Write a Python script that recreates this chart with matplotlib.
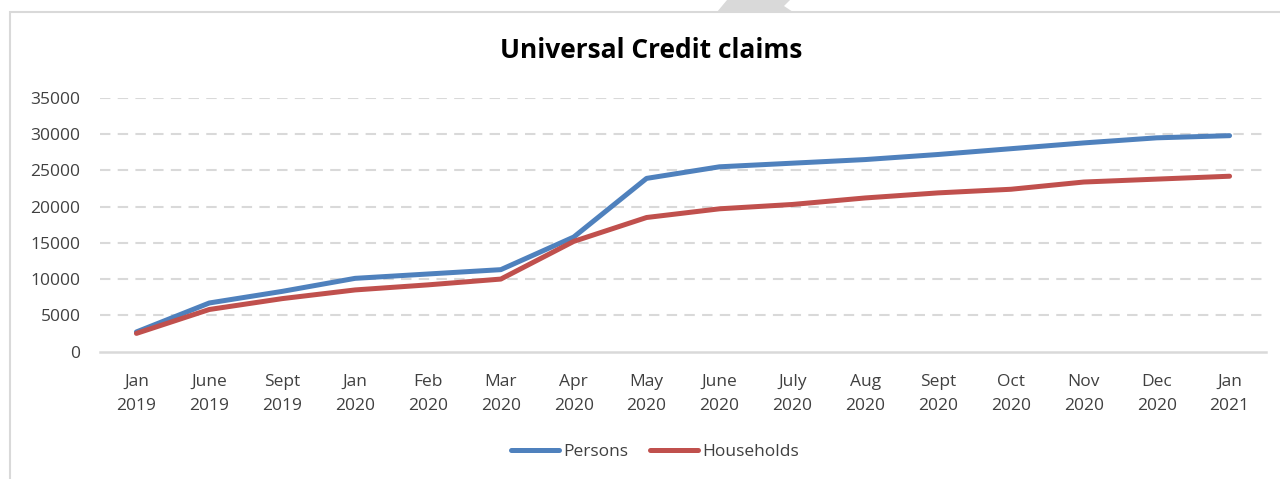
import numpy as np
import matplotlib
matplotlib.use("Agg")
import matplotlib.pyplot as plt
from matplotlib.patches import Polygon, Rectangle

plt.rcParams['font.family'] = ['Open Sans', 'DejaVu Sans']

months = ["Jan\n2019", "June\n2019", "Sept\n2019", "Jan\n2020", "Feb\n2020", "Mar\n2020",
          "Apr\n2020", "May\n2020", "June\n2020", "July\n2020", "Aug\n2020", "Sept\n2020",
          "Oct\n2020", "Nov\n2020", "Dec\n2020", "Jan\n2021"]
persons = [2700, 6700, 8300, 10100, 10700, 11300, 15800, 23900,
           25500, 26000, 26500, 27200, 28000, 28800, 29500, 29800]
households = [2500, 5800, 7300, 8500, 9200, 10000, 15200, 18500,
              19700, 20300, 21200, 21900, 22400, 23400, 23800, 24200]
yticks = [0, 5000, 10000, 15000, 20000, 25000, 30000, 35000]

W, H = 1280, 479
fig = plt.figure(figsize=(W / 100, H / 100), dpi=100)

# chart frame + little grey tab at the top
fig.patches.append(Rectangle((10 / W, -0.1), 1.2, 1 - 12.5 / H + 0.1, transform=fig.transFigure,
                             fill=False, edgecolor="#d9d9d9", lw=1.5))
tab = [(717, 12), (727, 0), (790, 0), (784, 6), (793, 12)]
fig.patches.append(Polygon([(x / W, 1 - y / H) for x, y in tab], closed=True,
                           transform=fig.transFigure, facecolor="#d9d9d9", edgecolor="none"))

ax = fig.add_axes([100 / W, 1 - 351.5 / H, 1166 / W, (351.5 - 98) / H])
x = np.arange(len(months))

for y in yticks[1:]:
    ax.axhline(y, color="#d9d9d9", lw=1.5, ls=(0, (5, 3.5)), zorder=1)

ax.plot(x, persons, color="#4f81bd", lw=3.6, solid_capstyle="round", label="Persons", zorder=3)
ax.plot(x, households, color="#c0504d", lw=3.6, solid_capstyle="round", label="Households", zorder=3)

ax.set_xlim(-0.5, len(months) - 0.5)
ax.set_ylim(0, 35000)
ax.set_yticks(yticks)
ax.set_yticklabels([str(v) for v in yticks])
ax.set_xticks(x)
ax.set_xticklabels(months, linespacing=1.72)
ax.tick_params(length=0, labelsize=12.5, colors="#595959", labelcolor="#404040")
ax.tick_params(axis="y", pad=14)
ax.tick_params(axis="x", pad=16)
for s in ["top", "right", "left"]:
    ax.spines[s].set_visible(False)
ax.spines["bottom"].set_color("#d9d9d9")
ax.spines["bottom"].set_linewidth(1.8)

fig.text(651 / W, 1 - 50 / H, "Universal Credit claims", ha="center", va="center",
         fontsize=19, fontweight="bold", color="black")

fig.legend(loc="center", bbox_to_anchor=(655 / W, 1 - 452 / H), ncol=2, frameon=False,
           fontsize=12.5, handlelength=2.8, handletextpad=0.25, columnspacing=1.2,
           labelcolor="#404040")

fig.savefig("out.png", dpi=100)
